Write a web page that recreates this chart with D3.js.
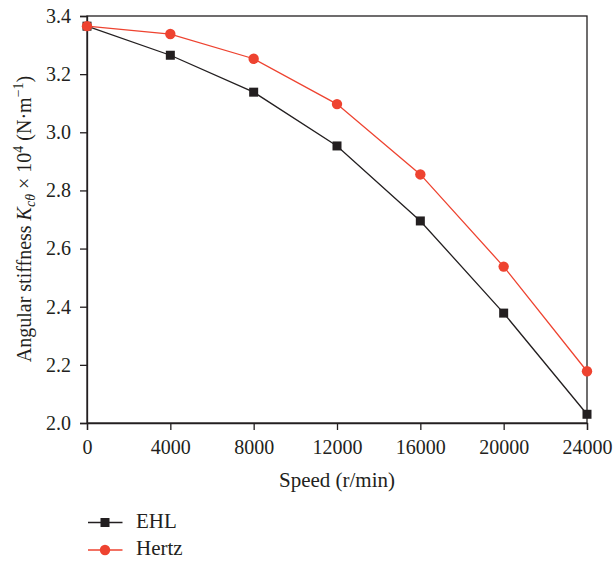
<!DOCTYPE html>
<html><head><meta charset="utf-8">
<script src="https://cdn.jsdelivr.net/npm/d3@7"></script>
<style>body{margin:0;background:#fff}svg{display:block}text{font-family:"Liberation Serif","DejaVu Serif",serif;fill:#231f20}</style>
</head><body>
<svg id="c" width="614" height="563"></svg>
<script>
const speeds = [0, 4000, 8000, 12000, 16000, 20000, 24000];
const ehl = [3.365, 3.265, 3.138, 2.953, 2.695, 2.378, 2.030];
const hertz = [3.365, 3.338, 3.253, 3.097, 2.855, 2.538, 2.178];
const xTicks = [0, 4000, 8000, 12000, 16000, 20000, 24000];
const yTicks = [2.0, 2.2, 2.4, 2.6, 2.8, 3.0, 3.2, 3.4];
const black = "#231f20", red = "#ee4330";

const svg = d3.select("#c");
const L = 87, R = 587, T = 16, B = 423;
const x = d3.scaleLinear().domain([0, 24000]).range([L, R]);
const y = d3.scaleLinear().domain([2.0, 3.4]).range([B, T]);

svg.append("rect").attr("x", L).attr("y", T).attr("width", R - L).attr("height", B - T)
  .attr("fill", "none").attr("stroke", black).attr("stroke-width", 1.3);

const xa = svg.append("g").attr("transform", `translate(0,${B})`)
  .call(d3.axisBottom(x).tickValues(xTicks).tickFormat(d3.format("d")).tickSize(7).tickPadding(10));
const ya = svg.append("g").attr("transform", `translate(${L},0)`)
  .call(d3.axisLeft(y).tickValues(yTicks).tickFormat(d3.format(".1f")).tickSize(7).tickPadding(9));
[xa, ya].forEach(a => {
  a.select(".domain").attr("stroke", black).attr("stroke-width", 1.3);
  a.selectAll(".tick line").attr("stroke", black).attr("stroke-width", 1.3);
  a.selectAll(".tick text").attr("font-size", 20).attr("fill", black)
   .style("font-family", '"Liberation Serif","DejaVu Serif",serif');
});

const line = d3.line().x((d, i) => x(speeds[i])).y(d => y(d));
svg.append("path").datum(ehl).attr("d", line).attr("fill", "none").attr("stroke", black).attr("stroke-width", 1.3);
svg.append("path").datum(hertz).attr("d", line).attr("fill", "none").attr("stroke", red).attr("stroke-width", 1.3);

svg.selectAll(".sq").data(ehl).enter().append("rect")
  .attr("x", (d, i) => x(speeds[i]) - 4.5).attr("y", d => y(d) - 4.5)
  .attr("width", 9).attr("height", 9).attr("fill", black);
svg.selectAll(".ci").data(hertz).enter().append("circle")
  .attr("cx", (d, i) => x(speeds[i])).attr("cy", d => y(d)).attr("r", 5.2).attr("fill", red);

svg.append("text").attr("x", 337).attr("y", 487).attr("text-anchor", "middle")
  .attr("font-size", 21).text("Speed (r/min)");
const yl = svg.append("text").attr("transform", "translate(31,219) rotate(-90)")
  .attr("text-anchor", "middle").attr("font-size", 20);
yl.append("tspan").text("Angular stiffness ");
yl.append("tspan").attr("font-style", "italic").text("K");
yl.append("tspan").attr("font-style", "italic").attr("font-size", 14).attr("dy", 4).text("cθ");
yl.append("tspan").attr("dy", -4).text(" × 10");
yl.append("tspan").attr("font-size", 14).attr("dy", -8).text("4");
yl.append("tspan").attr("dy", 8).text(" (N·m");
yl.append("tspan").attr("font-size", 14).attr("dy", -8).text("−1");
yl.append("tspan").attr("dy", 8).text(")");

const leg = [{n: "EHL", c: black, m: "sq", yy: 522.5}, {n: "Hertz", c: red, m: "ci", yy: 550}];
leg.forEach(l => {
  svg.append("line").attr("x1", 88).attr("x2", 122.5).attr("y1", l.yy).attr("y2", l.yy)
    .attr("stroke", l.c).attr("stroke-width", 1.3);
  if (l.m === "sq") svg.append("rect").attr("x", 100.5).attr("y", l.yy - 4.5).attr("width", 9).attr("height", 9).attr("fill", l.c);
  else svg.append("circle").attr("cx", 105).attr("cy", l.yy).attr("r", 5.2).attr("fill", l.c);
  svg.append("text").attr("x", 136).attr("y", l.yy + 5).attr("font-size", 21).text(l.n);
});
</script>
</body></html>
